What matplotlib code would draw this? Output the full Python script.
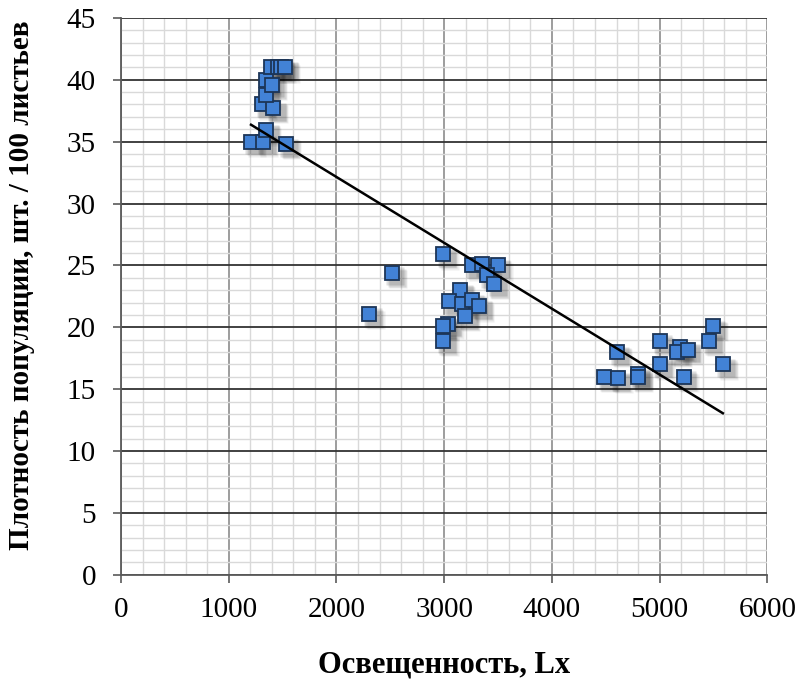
import numpy as np
import matplotlib
matplotlib.use("Agg")
import matplotlib.pyplot as plt
from matplotlib.ticker import MultipleLocator
from matplotlib.transforms import offset_copy

# illumination (Lx) and population density per 100 leaves
lux = [1207, 1319, 1347, 1532, 1310, 1412, 1347, 1347, 1400, 1393, 1462,
       1486, 1523,
       2993, 2513, 2306, 3257, 3350, 3496, 3396, 3464, 3148, 3049, 3163,
       3257, 3325, 3195, 3039, 2993, 2993,
       4603, 4486, 4610, 4796, 4796, 5000, 5000, 5192, 5160, 5259, 5222,
       5494, 5463, 5587]
density = [35.0, 35.0, 35.9, 34.8, 38.0, 37.7, 38.8, 40.0, 39.6, 41.0, 41.0,
           41.0, 41.0,
           25.9, 24.4, 21.1, 25.0, 25.1, 25.0, 24.2, 23.5, 23.0, 22.1, 21.9,
           22.2, 21.7, 20.9, 20.3, 20.1, 18.9,
           18.0, 16.0, 15.9, 16.2, 16.0, 18.9, 17.0, 18.4, 18.0, 18.2, 16.0,
           20.1, 18.9, 17.0]

x_ticks = [0, 1000, 2000, 3000, 4000, 5000, 6000]
y_ticks = [0, 5, 10, 15, 20, 25, 30, 35, 40, 45]

plt.rcParams['font.family'] = ['Liberation Serif', 'DejaVu Serif']

fig = plt.figure(figsize=(7.96, 6.86), dpi=100)
ax = fig.add_axes([0.152, 0.162, 0.812, 0.812])

ax.set_xlim(0, 6000)
ax.set_ylim(0, 45)
ax.set_xticks(x_ticks)
ax.set_yticks(y_ticks)
ax.xaxis.set_minor_locator(MultipleLocator(200))
ax.yaxis.set_minor_locator(MultipleLocator(1))

# grid: light minor cells, gray verticals, dark horizontals
ax.grid(which='minor', color='#d9d9d9', linewidth=1.0)
ax.grid(which='major', axis='x', color='#8c8c8c', linewidth=1.2)
ax.grid(which='major', axis='y', color='#333333', linewidth=1.3)
ax.set_axisbelow(True)

for side in ['top', 'right']:
    ax.spines[side].set_visible(False)
for side in ['left', 'bottom']:
    ax.spines[side].set_color('#5a5a5a')
    ax.spines[side].set_linewidth(1.3)

ax.tick_params(which='major', direction='out', length=6, width=1.2,
               color='#5a5a5a', labelsize=21)
ax.tick_params(which='minor', length=0)
ax.tick_params(axis='x', pad=10)
ax.tick_params(axis='y', pad=12)

# soft drop shadow under the square markers
for dx, dy, a in [(4.5, -4.5, 0.07), (3.5, -3.5, 0.10), (2.5, -2.5, 0.13)]:
    shadow = offset_copy(ax.transData, fig=fig, x=dx, y=dy, units='points')
    ax.plot(lux, density, 's', ms=12.5, color='#000000', alpha=a,
            mec='none', transform=shadow, zorder=2)

ax.plot(lux, density, 's', ms=10.5, mfc='#4282d6', mec='#1c3557',
        mew=1.3, zorder=3)

# linear trend
k, b = np.polyfit(lux, density, 1)
xt = np.array([min(lux), max(lux)])
ax.plot(xt, k * xt + b, color='black', linewidth=1.8, zorder=4)

ax.set_xlabel('Освещенность, Lx', fontsize=22, fontweight='bold', labelpad=20)
ax.set_ylabel('Плотность популяции, шт. / 100 листьев', fontsize=21,
              fontweight='bold')
ax.yaxis.set_label_coords(-0.133, 0.52)

fig.savefig('out.png', dpi=100)
